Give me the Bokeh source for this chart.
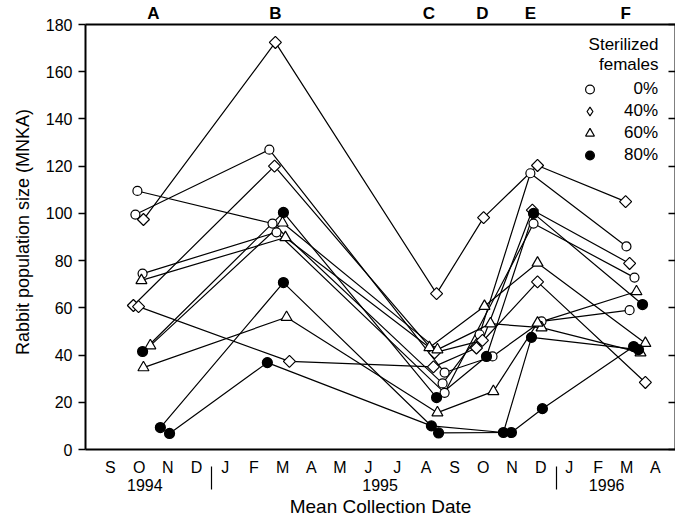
import math
from bokeh.plotting import figure
from bokeh.models import (Range1d, LinearAxis, FixedTicker, Legend, LegendItem, Label)
from bokeh.embed import file_html
from bokeh.resources import INLINE

FONT = "Liberation Sans"

# ---------------- data ----------------
# x: months, 0 = September 1994 (label centre), fractional = mean collection date
months = ["S", "O", "N", "D", "J", "F", "M", "A", "M", "J",
          "J", "A", "S", "O", "N", "D", "J", "F", "M", "A"]
years = ["1994", "1995", "1996"]
year_pos = [1.2, 9.4, 17.3]
year_breaks = [3.52, 15.55]
sessions = ["A", "B", "C", "D", "E", "F"]
session_pos = [1.5, 5.75, 11.1, 12.97, 14.64, 17.96]
y_ticks = [0, 20, 40, 60, 80, 100, 120, 140, 160, 180]

# 0% sterilized (open circles)
s0_x = [[0.94, 5.65, 11.58, 12.87, 14.64, 17.99],
        [0.87, 5.54, 11.65, 13.32, 15.03, 18.10],
        [1.12, 5.79, 11.65, 14.75, 18.27]]
s0_y = [[109.5, 95.7, 28, 48.7, 117, 86],
        [99.5, 127, 32.6, 39.4, 54.3, 59],
        [74.5, 92, 24, 95.7, 72.8]]

# 40% sterilized (open diamonds)
s40_x = [[1.15, 5.75, 11.37, 13.01, 14.89, 17.96],
         [0.80, 5.72, 11.30, 12.97, 14.71, 18.10],
         [0.98, 6.24, 11.26, 12.76, 14.89, 18.65]]
s40_y = [[97.4, 172.4, 66, 98.2, 120.3, 105],
         [61, 120, 41, 46.2, 101.4, 78.8],
         [60.5, 37.3, 35, 43, 71, 28.4]]

# 60% sterilized (open triangles)
s60_x = [[1.08, 6.10, 11.12, 13.04, 14.89, 18.65],
         [1.39, 6.00, 11.40, 13.25, 15.03, 18.48],
         [1.15, 6.14, 11.40, 13.35, 14.89, 18.34]]
s60_y = [[71.6, 89.8, 43.2, 60.7, 79, 45],
         [44, 96, 42.3, 53.3, 51.6, 41],
         [34.7, 56, 15.6, 24.6, 53.6, 66.9]]

# 80% sterilized (filled circles)
s80_x = [[1.12, 6.03, 11.37, 13.11, 14.75, 18.55],
         [1.74, 6.03, 11.44, 13.98, 15.06, 18.24],
         [2.06, 5.47, 11.19, 13.70, 14.68, 18.41]]
s80_y = [[41.5, 100.4, 22, 39.4, 100, 61.4],
         [9.3, 70.7, 7, 7.2, 17.3, 43.6],
         [6.8, 36.8, 10, 7.2, 47.5, 42.3]]

legend_labels = ["\u20070%", "40%", "60%", "80%"]

# ---------------- figure ----------------
p = figure(frame_width=590, frame_height=425,
           x_range=Range1d(-0.87, 19.7), y_range=Range1d(0, 180),
           output_backend="svg", toolbar_location=None,
           min_border_left=85, min_border_top=17, min_border_right=0,
           min_border_bottom=10, outline_line_color=None,
           background_fill_color="white", border_fill_color="white")
p.xgrid.visible = False
p.ygrid.visible = False

# left y axis
ya = p.yaxis[0]
ya.ticker = FixedTicker(ticks=y_ticks)
ya.major_tick_out = 7
ya.major_tick_in = 0
ya.major_tick_line_width = 1.5
ya.minor_tick_line_color = None
ya.axis_line_width = 2
ya.major_label_standoff = 6
ya.major_label_text_font = FONT
ya.major_label_text_font_size = "16px"
ya.major_label_text_color = "black"
# a leading figure space nudges the visible title slightly upwards
ya.axis_label = "\u2007Rabbit population size (MNKA)"
ya.axis_label_text_font = FONT
ya.axis_label_text_font_size = "18px"
ya.axis_label_text_font_style = "normal"
ya.axis_label_text_color = "black"
ya.axis_label_standoff = 10

# bottom month axis
xa = p.xaxis[0]
xa.ticker = FixedTicker(ticks=list(range(len(months))))
xa.major_label_overrides = {i: m for i, m in enumerate(months)}
xa.major_tick_line_color = None
xa.major_tick_out = 0
xa.major_tick_in = 0
xa.minor_tick_line_color = None
xa.axis_line_width = 2
xa.major_label_standoff = 9
xa.major_label_text_font = FONT
xa.major_label_text_font_size = "16px"
xa.major_label_text_color = "black"

# year axis (second below axis) with separators as minor ticks
yr = LinearAxis(ticker=FixedTicker(ticks=year_pos, minor_ticks=year_breaks))
yr.major_label_overrides = {v: t for v, t in zip(year_pos, years)}
yr.axis_line_color = None
yr.major_tick_line_color = None
yr.major_tick_out = 0
yr.major_tick_in = 0
yr.minor_tick_in = 12
yr.minor_tick_out = 11
yr.minor_tick_line_width = 1.2
yr.minor_tick_line_color = "black"
yr.major_label_standoff = -11
yr.major_label_text_font = FONT
yr.major_label_text_font_size = "16px"
yr.major_label_text_color = "black"
yr.axis_label = "Mean Collection Date"
yr.axis_label_text_font = FONT
yr.axis_label_text_font_size = "19px"
yr.axis_label_text_font_style = "normal"
yr.axis_label_text_color = "black"
yr.axis_label_standoff = 2
p.add_layout(yr, "below")

# top session axis
ta = LinearAxis(ticker=FixedTicker(ticks=session_pos))
ta.major_label_overrides = {v: t for v, t in zip(session_pos, sessions)}
ta.major_tick_line_color = None
ta.major_tick_out = 0
ta.major_tick_in = 0
ta.minor_tick_line_color = None
ta.axis_line_width = 2
ta.major_label_standoff = 2
ta.major_label_text_font = FONT
ta.major_label_text_font_size = "17px"
ta.major_label_text_font_style = "bold"
ta.major_label_text_color = "black"
p.add_layout(ta, "above")

# right axis with inward ticks, no labels
ra = LinearAxis(ticker=FixedTicker(ticks=y_ticks))
ra.major_label_overrides = {v: "" for v in y_ticks}
ra.major_tick_in = 7
ra.major_tick_out = 0
ra.major_tick_line_width = 1.5
ra.minor_tick_line_color = None
ra.axis_line_width = 2
ra.major_label_standoff = 0
ra.major_label_text_font_size = "1px"
p.add_layout(ra, "right")

# ---------------- series ----------------
groups = [
    (s0_x, s0_y, "circle", 9, "white", 0.0, "circle"),
    (s40_x, s40_y, "square", 8.5, "white", math.pi / 4, "diamond"),
    (s60_x, s60_y, "triangle", 11, "white", 0.0, "triangle"),
    (s80_x, s80_y, "circle", 10, "black", 0.0, "circle"),
]

for xs, ys, *_ in groups:
    for x, y in zip(xs, ys):
        p.line(x, y, line_color="black", line_width=1.2)

legend_renderers = []
for xs, ys, marker, size, fill, ang, lmarker in groups:
    allx = [v for s in xs for v in s]
    ally = [v for s in ys for v in s]
    if lmarker != marker:
        # legend key renderer (legend keys are drawn unrotated); it lies
        # completely under the rotated-square markers drawn next
        legend_renderers.append(p.scatter(allx, ally, marker=lmarker, size=10,
                                          fill_color=fill, line_color="black",
                                          line_width=1.2))
    r = p.scatter(allx, ally, marker=marker, size=size, angle=ang,
                  fill_color=fill, line_color="black", line_width=1.2)
    if lmarker == marker:
        legend_renderers.append(r)

legend = Legend(items=[LegendItem(label=lab, renderers=[r])
                       for lab, r in zip(legend_labels, legend_renderers)],
                location=(492, 283), orientation="vertical")
legend.padding = 0
legend.margin = 0
legend.spacing = 0
legend.glyph_width = 25
legend.glyph_height = 22
legend.label_height = 22
legend.label_standoff = 22
legend.label_text_font = FONT
legend.label_text_font_size = "17px"
legend.label_text_color = "black"
legend.border_line_color = None
legend.background_fill_alpha = 0
p.add_layout(legend)

for txt, yy in [("Sterilized", 405), ("females", 385)]:
    p.add_layout(Label(x=573, y=yy, x_units="screen", y_units="screen",
                       text=txt, text_align="right", text_baseline="middle",
                       text_font=FONT, text_font_size="17px", text_color="black"))

open("out.html", "w").write(file_html(p, INLINE))
